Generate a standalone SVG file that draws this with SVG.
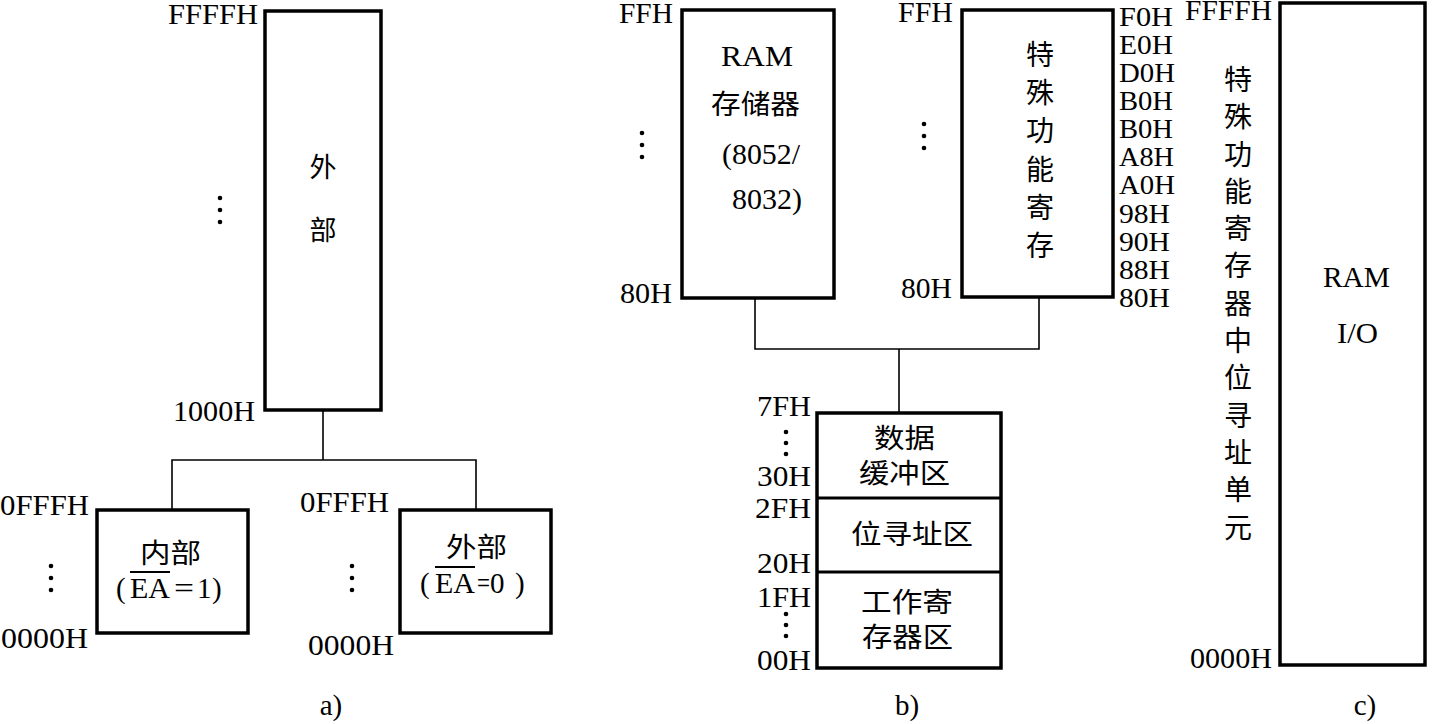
<svg xmlns="http://www.w3.org/2000/svg" width="1432" height="724" viewBox="0 0 1432 724">
<style>
.box{fill:#fff;stroke:#000;stroke-width:3.5}
.con{fill:none;stroke:#000;stroke-width:1.6}
.lt{font-family:"Liberation Serif","Times New Roman",serif;font-size:29px;fill:#000}
.cj{font-family:"Noto Sans CJK SC","Noto Sans CJK JP",sans-serif;font-size:27px;fill:#000}
.cv{font-family:"Noto Sans CJK SC","Noto Sans CJK JP",sans-serif;font-size:28px;fill:#000;text-anchor:middle}
.m{text-anchor:middle}
.dot{fill:#000}
.ov{stroke:#000;stroke-width:1.8}
</style>
<rect width="1432" height="724" fill="#fff"/>

<g id="connectors">
  <polyline class="con" points="323,410 323,460"/>
  <polyline class="con" points="172,510 172,460 476,460 476,510"/>
  <polyline class="con" points="755,298 755,349 1039,349 1039,297"/>
  <polyline class="con" points="899,349 899,413"/>
</g>

<!-- a) -->
<g id="a-ext">
  <rect class="box" x="265" y="11" width="116" height="399"/>
  <text class="cj m" x="323" y="177">外</text>
  <text class="cj m" x="323" y="240">部</text>
  <text class="lt" x="168" y="24" textLength="90" lengthAdjust="spacingAndGlyphs">FFFFH</text>
  <text class="lt" x="173" y="421" textLength="82" lengthAdjust="spacingAndGlyphs">1000H</text>
  <circle class="dot" cx="220" cy="198" r="2.3"/><circle class="dot" cx="220" cy="210" r="2.3"/><circle class="dot" cx="220" cy="222" r="2.3"/>
</g>
<g id="a-int">
  <rect class="box" x="97" y="510" width="151" height="123"/>
  <text class="cj" x="140" y="563" textLength="61" lengthAdjust="spacingAndGlyphs">内部</text>
  <text class="lt" x="116" y="598">(</text>
  <text class="lt" x="130" y="598" textLength="40" lengthAdjust="spacingAndGlyphs">EA</text>
  <line class="ov" x1="130" y1="572" x2="170" y2="572"/>
  <text class="lt" x="174" y="598" textLength="20" lengthAdjust="spacingAndGlyphs">=</text>
  <text class="lt" x="197" y="598">1</text>
  <text class="lt" x="212" y="598">)</text>
  <text class="lt" x="0" y="515" textLength="89" lengthAdjust="spacingAndGlyphs">0FFFH</text>
  <text class="lt" x="1" y="648" textLength="87" lengthAdjust="spacingAndGlyphs">0000H</text>
  <circle class="dot" cx="51" cy="566" r="2.3"/><circle class="dot" cx="51" cy="578" r="2.3"/><circle class="dot" cx="51" cy="590" r="2.3"/>
</g>
<g id="a-ext2">
  <rect class="box" x="400" y="510" width="151" height="123"/>
  <text class="cj" x="446" y="557" textLength="61" lengthAdjust="spacingAndGlyphs">外部</text>
  <text class="lt" x="420" y="593">(</text>
  <text class="lt" x="435" y="593" textLength="40" lengthAdjust="spacingAndGlyphs">EA</text>
  <line class="ov" x1="435" y1="567" x2="475" y2="567"/>
  <text class="lt" x="477" y="593" textLength="13" lengthAdjust="spacingAndGlyphs">=</text>
  <text class="lt" x="490" y="593">0</text>
  <text class="lt" x="515" y="593">)</text>
  <text class="lt" x="300" y="512" textLength="89" lengthAdjust="spacingAndGlyphs">0FFFH</text>
  <text class="lt" x="308" y="655" textLength="86" lengthAdjust="spacingAndGlyphs">0000H</text>
  <circle class="dot" cx="352" cy="566" r="2.3"/><circle class="dot" cx="352" cy="578" r="2.3"/><circle class="dot" cx="352" cy="590" r="2.3"/>
</g>
<text class="lt m" x="331" y="715">a)</text>

<!-- b) -->
<g id="b-ram">
  <rect class="box" x="682" y="10" width="152" height="288"/>
  <text class="lt" x="721" y="66" textLength="72" lengthAdjust="spacingAndGlyphs">RAM</text>
  <text class="cj" x="711" y="114" textLength="89" lengthAdjust="spacingAndGlyphs">存储器</text>
  <text class="lt" x="722" y="164" textLength="78" lengthAdjust="spacingAndGlyphs">(8052/</text>
  <text class="lt" x="732" y="209" textLength="70" lengthAdjust="spacingAndGlyphs">8032)</text>
  <text class="lt" x="619" y="23" textLength="54" lengthAdjust="spacingAndGlyphs">FFH</text>
  <text class="lt" x="620" y="303" textLength="52" lengthAdjust="spacingAndGlyphs">80H</text>
  <circle class="dot" cx="642" cy="133" r="2.3"/><circle class="dot" cx="642" cy="145" r="2.3"/><circle class="dot" cx="642" cy="157" r="2.3"/>
</g>
<g id="b-sfr">
  <rect class="box" x="962" y="10" width="151" height="287"/>
  <text class="cv" x="1040" y="65">特</text>
  <text class="cv" x="1040" y="103">殊</text>
  <text class="cv" x="1040" y="141">功</text>
  <text class="cv" x="1040" y="180">能</text>
  <text class="cv" x="1040" y="218">寄</text>
  <text class="cv" x="1040" y="256">存</text>
  <text class="lt" x="898" y="22" textLength="55" lengthAdjust="spacingAndGlyphs">FFH</text>
  <text class="lt" x="901" y="298" textLength="51" lengthAdjust="spacingAndGlyphs">80H</text>
  <circle class="dot" cx="924" cy="124" r="2.3"/><circle class="dot" cx="924" cy="136" r="2.3"/><circle class="dot" cx="924" cy="148" r="2.3"/>
  <g class="lt" style="font-size:28px">
    <text x="1119" y="26" textLength="54" lengthAdjust="spacingAndGlyphs">F0H</text>
    <text x="1119" y="54" textLength="54" lengthAdjust="spacingAndGlyphs">E0H</text>
    <text x="1119" y="82" textLength="56" lengthAdjust="spacingAndGlyphs">D0H</text>
    <text x="1119" y="110" textLength="54" lengthAdjust="spacingAndGlyphs">B0H</text>
    <text x="1119" y="138" textLength="54" lengthAdjust="spacingAndGlyphs">B0H</text>
    <text x="1119" y="166" textLength="55" lengthAdjust="spacingAndGlyphs">A8H</text>
    <text x="1119" y="194" textLength="56" lengthAdjust="spacingAndGlyphs">A0H</text>
    <text x="1119" y="223" textLength="51" lengthAdjust="spacingAndGlyphs">98H</text>
    <text x="1119" y="251" textLength="51" lengthAdjust="spacingAndGlyphs">90H</text>
    <text x="1119" y="279" textLength="51" lengthAdjust="spacingAndGlyphs">88H</text>
    <text x="1119" y="307" textLength="51" lengthAdjust="spacingAndGlyphs">80H</text>
  </g>
</g>
<g id="b-low">
  <rect class="box" x="817" y="413" width="184" height="255"/>
  <line x1="817" y1="498" x2="1001" y2="498" stroke="#000" stroke-width="3"/>
  <line x1="817" y1="572" x2="1001" y2="572" stroke="#000" stroke-width="3"/>
  <text class="cj" x="874" y="448" textLength="61" lengthAdjust="spacingAndGlyphs">数据</text>
  <text class="cj" x="859" y="483" textLength="91" lengthAdjust="spacingAndGlyphs">缓冲区</text>
  <text class="cj" x="851" y="544" textLength="122" lengthAdjust="spacingAndGlyphs">位寻址区</text>
  <text class="cj" x="861" y="612" textLength="92" lengthAdjust="spacingAndGlyphs">工作寄</text>
  <text class="cj" x="862" y="647" textLength="91" lengthAdjust="spacingAndGlyphs">存器区</text>
  <text class="lt" x="757" y="416" textLength="54" lengthAdjust="spacingAndGlyphs">7FH</text>
  <text class="lt" x="757" y="486" textLength="54" lengthAdjust="spacingAndGlyphs">30H</text>
  <text class="lt" x="755" y="518" textLength="56" lengthAdjust="spacingAndGlyphs">2FH</text>
  <text class="lt" x="757" y="573" textLength="54" lengthAdjust="spacingAndGlyphs">20H</text>
  <text class="lt" x="757" y="607" textLength="54" lengthAdjust="spacingAndGlyphs">1FH</text>
  <text class="lt" x="757" y="670" textLength="54" lengthAdjust="spacingAndGlyphs">00H</text>
  <circle class="dot" cx="786" cy="432" r="2.3"/><circle class="dot" cx="786" cy="443" r="2.3"/><circle class="dot" cx="786" cy="454" r="2.3"/>
  <circle class="dot" cx="786" cy="614" r="2.3"/><circle class="dot" cx="786" cy="625" r="2.3"/><circle class="dot" cx="786" cy="636" r="2.3"/>
</g>
<text class="lt m" x="907" y="715">b)</text>

<!-- c) -->
<g id="c-box">
  <rect class="box" x="1280" y="3" width="145" height="662"/>
  <text class="lt" x="1323" y="287" textLength="67" lengthAdjust="spacingAndGlyphs">RAM</text>
  <text class="lt" x="1337" y="343" textLength="41" lengthAdjust="spacingAndGlyphs">I/O</text>
  <text class="lt" x="1185" y="20" textLength="87" lengthAdjust="spacingAndGlyphs">FFFFH</text>
  <text class="lt" x="1190" y="668" textLength="82" lengthAdjust="spacingAndGlyphs">0000H</text>
</g>
<g id="c-label">
  <text class="cv" x="1238" y="90">特</text>
  <text class="cv" x="1238" y="127">殊</text>
  <text class="cv" x="1238" y="165">功</text>
  <text class="cv" x="1238" y="202">能</text>
  <text class="cv" x="1238" y="239">寄</text>
  <text class="cv" x="1238" y="276">存</text>
  <text class="cv" x="1238" y="314">器</text>
  <text class="cv" x="1238" y="351">中</text>
  <text class="cv" x="1238" y="388">位</text>
  <text class="cv" x="1238" y="426">寻</text>
  <text class="cv" x="1238" y="463">址</text>
  <text class="cv" x="1238" y="500">单</text>
  <text class="cv" x="1238" y="538">元</text>
</g>
<text class="lt m" x="1365" y="715">c)</text>
</svg>
